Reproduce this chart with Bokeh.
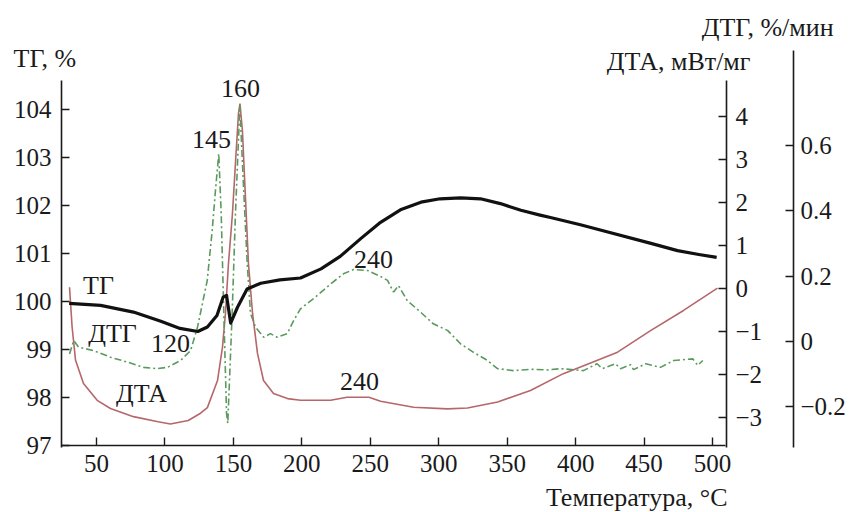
from bokeh.plotting import figure
from bokeh.models import Range1d, LinearAxis, FixedTicker, Label
from bokeh.embed import file_html
from bokeh.resources import INLINE

# ---------------- data ----------------
tg_t = [30, 53, 77, 97, 111, 124, 131, 138, 142.5, 145, 148, 153, 160, 170, 184, 199,
        214, 228, 243, 257.5, 272, 287, 301, 316, 330.5, 345, 360, 374, 381.6, 403.5,
        418, 455, 474.4, 490, 503]
tg_v = [99.96, 99.92, 99.78, 99.59, 99.44, 99.375, 99.47, 99.71, 100.09, 100.125, 99.55,
        99.88, 100.26, 100.38, 100.45, 100.49, 100.68, 100.94, 101.31, 101.65, 101.91,
        102.07, 102.14, 102.16, 102.14, 102.04, 101.9, 101.8, 101.75, 101.6, 101.49,
        101.21, 101.06, 100.98, 100.92]

dta_t = [30.3, 32.2, 34.7, 40.5, 50.5, 60.2, 77, 95, 104, 117, 126, 131, 138.4, 142, 144.2,
         146.4, 149.3, 151.5, 153.7, 154.8, 156.6, 158.8, 161, 164, 167.6, 172, 179.3,
         189.5, 199, 221, 233, 249, 257.5, 281.6, 306.4, 321, 343, 367, 391, 404,
         430.6, 454.7, 478.8, 503.6]
dta_v = [0.03, -0.9, -1.67, -2.21, -2.6, -2.79, -2.98, -3.1, -3.15, -3.07, -2.9, -2.77,
         -2.14, -1.37, -0.58, 0.58, 1.74, 2.91, 4.07, 4.3, 3.67, 2.12, 0.58, -0.58, -1.51,
         -2.14, -2.44, -2.56, -2.6, -2.6, -2.53, -2.53, -2.62, -2.76, -2.8, -2.78, -2.64,
         -2.37, -1.98, -1.82, -1.48, -0.98, -0.51, 0.01]

dtg_t = [30.3, 33.4, 36.9, 47.8, 60.2, 72.6, 84.3, 94.6, 101.9, 111.4, 118.7, 123.8,
         130.9, 134.5, 136.9, 139.3, 141.1, 143, 145, 145.9, 149.1, 151.5, 154, 154.7,
         157.2, 160.1, 162.5, 166.1, 172.2, 177, 182, 189.3, 194, 199, 208.5, 221, 230.4,
         237.7, 248, 257.5, 262.6, 267, 270.6, 277, 286.7, 296, 306.4, 315.9, 325.4,
         335.6, 342.9, 354.6, 367, 379.4, 388.9, 405.7, 415.7, 419.4, 429.1, 432.8,
         440.1, 442.3, 451.1, 462, 471.6, 485.5, 489.2, 492.9]
dtg_v = [-0.038, 0.003, -0.017, -0.028, -0.048, -0.063, -0.079, -0.083, -0.079, -0.058,
         -0.028, 0.044, 0.187, 0.339, 0.462, 0.574, 0.391, 0.086, -0.22, -0.25, 0.086,
         0.391, 0.645, 0.722, 0.492, 0.239, 0.086, 0.044, 0.013, 0.024, 0.013, 0.024,
         0.064, 0.10, 0.131, 0.176, 0.207, 0.22, 0.217, 0.199, 0.187, 0.151, 0.171, 0.125,
         0.09, 0.054, 0.034, -0.007, -0.033, -0.058, -0.083, -0.089, -0.085, -0.087,
         -0.083, -0.089, -0.068, -0.083, -0.068, -0.083, -0.071, -0.086, -0.068, -0.079,
         -0.058, -0.053, -0.073, -0.058]

x_ticks = [50, 100, 150, 200, 250, 300, 350, 400, 450, 500]
tg_ticks = [97, 98, 99, 100, 101, 102, 103, 104]
dta_ticks = [-3, -2, -1, 0, 1, 2, 3, 4]
dtg_ticks = [-0.2, 0, 0.2, 0.4, 0.6]
dta_tick_labels = ["\u22123", "\u22122", "\u22121", "0", "1", "2", "3", "4"]
dtg_tick_labels = ["\u22120.2", "0", "0.2", "0.4", "0.6"]

# ---------------- styling ----------------
FONT = "Liberation Serif"
FS = "25px"
FS_T = "26px"
INK = "#1a1a1a"
C_TG = "#111111"
C_DTA = "#b5676b"
C_DTG = "#5a9a5e"

# the frame covers the whole canvas; axes are drawn at fixed locations inside it
p = figure(width=852, height=512, min_border=0,
           x_range=Range1d(-20.12, 602.23), y_range=Range1d(95.604, 106.271),
           output_backend="svg", toolbar_location=None,
           background_fill_color="white", border_fill_color="white")
p.outline_line_color = None
p.grid.visible = False

p.extra_y_ranges = {"dta": Range1d(-5.209, 6.698), "dtg": Range1d(-0.5229, 1.04281)}


def style_axis(ax, standoff):
    ax.axis_line_color = INK
    ax.axis_line_width = 1.6
    ax.major_tick_line_color = INK
    ax.major_tick_line_width = 1.4
    ax.major_tick_in = 8
    ax.major_tick_out = 0
    ax.minor_tick_line_color = None
    ax.major_label_text_font = FONT
    ax.major_label_text_font_size = FS
    ax.major_label_text_color = INK
    ax.major_label_standoff = standoff


xa = p.xaxis[0]
xa.ticker = FixedTicker(ticks=x_ticks)
xa.fixed_location = 97
xa.bounds = (24.43, 509.5)
style_axis(xa, 10)

ya = p.yaxis[0]
ya.ticker = FixedTicker(ticks=tg_ticks)
ya.fixed_location = 24.43
ya.bounds = (96.96, 104.604)
style_axis(ya, 10)

ax_dta = LinearAxis(y_range_name="dta", ticker=FixedTicker(ticks=dta_ticks),
                    major_label_overrides=dict(zip(dta_ticks, dta_tick_labels)),
                    fixed_location=510.2, bounds=(-3.698, 4.837))
style_axis(ax_dta, 9)
p.add_layout(ax_dta, "right")

ax_dtg = LinearAxis(y_range_name="dtg", ticker=FixedTicker(ticks=dtg_ticks),
                    major_label_overrides=dict(zip(dtg_ticks, dtg_tick_labels)),
                    fixed_location=559.1, bounds=(-0.324, 0.890))
style_axis(ax_dtg, 7)
p.add_layout(ax_dtg, "right")

# ---------------- curves ----------------
p.line(dta_t, dta_v, y_range_name="dta", line_color=C_DTA, line_width=1.6)
p.line(dtg_t, dtg_v, y_range_name="dtg", line_color=C_DTG, line_width=1.6,
       line_dash="7 3 2 3")
p.line(tg_t, tg_v, line_color=C_TG, line_width=3.2, line_join="round")

# ---------------- texts ----------------
def lab(x, y, text, align="center"):
    p.add_layout(Label(x=x, y=y, text=text, text_font=FONT, text_font_size=FS_T,
                       text_color=INK, text_align=align, text_baseline="middle"))


lab(-10.6, 105.06, "ТГ, %", "left")
lab(527.7, 105.0, "ДТА, мВт/мг", "right")
lab(588.4, 105.71, "ДТГ, %/мин", "right")
lab(510.9, 95.91, "Температура, °C", "right")
lab(51.5, 100.33, "ТГ")
lab(61.7, 99.33, "ДТГ")
lab(104, 99.125, "120")
lab(82.9, 98.08, "ДТА")
lab(134, 103.375, "145")
lab(155.2, 104.44, "160")
lab(252.3, 100.875, "240")
lab(242.1, 98.33, "240")

open("out.html", "w").write(file_html(p, INLINE))
